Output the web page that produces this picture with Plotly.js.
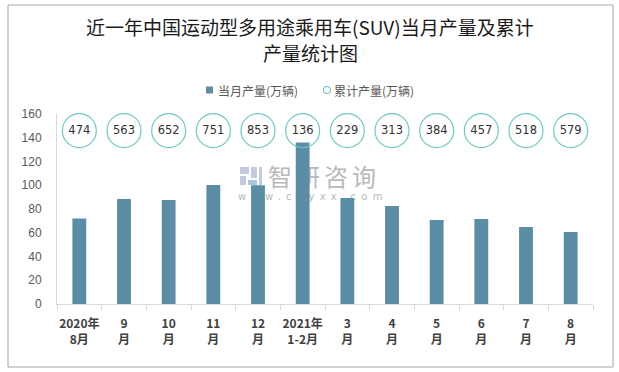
<!DOCTYPE html>
<html>
<head>
<meta charset="utf-8">
<script src="https://cdn.plot.ly/plotly-3.0.1.min.js"></script>
<style>html,body{margin:0;padding:0;background:#fff;}#chart{width:619px;height:372px;}</style>
</head>
<body>
<div id="chart"></div>
<script>
// Data
const categories = ["2020年<br>8月","9<br>月","10<br>月","11<br>月","12<br>月","2021年<br>1-2月","3<br>月","4<br>月","5<br>月","6<br>月","7<br>月","8<br>月"];
const monthlyOutput = [72, 88.5, 87.5, 100.3, 100, 136, 89.3, 82.5, 70.8, 71.6, 64.8, 60.6];
const cumulativeOutput = [474, 563, 652, 751, 853, 136, 229, 313, 384, 457, 518, 579];
const seriesNames = ["当月产量(万辆)", "累计产量(万辆)"];
const titleLines = ["近一年中国运动型多用途乘用车(SUV)当月产量及累计", "产量统计图"];

// geometry helpers (plot area in px)
const L = 57, R = 593, T = 114, B = 304;
const px2x = p => (p - L) / (R - L);
const px2y = p => (B - p) / (B - T);
const labelRow = 146; // row of the circled cumulative labels on the value axis

const font = '"Noto Sans CJK SC","Noto Sans",sans-serif';
const barColor = '#5B8DA6';
const ringColor = '#6ECAC2';

const wmSvg = '<svg xmlns="http://www.w3.org/2000/svg" width="150" height="40">' +
  '<rect x="5" y="4" width="9" height="7" fill="#c3cbdf"/><rect x="5" y="13" width="6" height="9" fill="#c3cbdf"/>' +
  '<rect x="16" y="4" width="6" height="11" fill="#c3cbdf"/><rect x="13" y="17" width="9" height="5" fill="#a7c6e4"/>' +
  '<rect x="24" y="4" width="3" height="18" fill="#c3cbdf"/>' +
  '<text x="33" y="23" font-family="Noto Sans CJK SC" font-size="24" fill="#b9b9b9" letter-spacing="4">智研咨询</text>' +
  '<text x="3" y="37" font-family="DejaVu Sans" font-size="10" fill="#b9b9b9" letter-spacing="5.3">www.chyxx.com</text>' +
  '</svg>';
const wmSrc = 'data:image/svg+xml;charset=utf-8,' + encodeURIComponent(wmSvg);

const traces = [
  {
    type: 'bar', x: categories, y: monthlyOutput, name: seriesNames[0],
    marker: {color: barColor}, width: 0.31, hoverinfo: 'x+y'
  },
  {
    type: 'scatter', mode: 'markers+text', x: categories,
    y: cumulativeOutput.map(() => labelRow),
    text: cumulativeOutput.map(String), textposition: 'middle center',
    textfont: {family: '"DejaVu Sans",sans-serif', size: 11.5, color: '#333333'},
    name: seriesNames[1],
    marker: {symbol: 'circle-open', size: 34, color: ringColor, line: {width: 1.2, color: ringColor}},
    cliponaxis: false
  }
];

const layout = {
  width: 619, height: 372,
  margin: {l: L, r: 619 - R, t: T, b: 372 - B},
  paper_bgcolor: '#ffffff', plot_bgcolor: 'rgba(0,0,0,0)',
  font: {family: font, size: 12, color: '#595959'},
  showlegend: false,
  xaxis: {
    type: 'category', range: [-0.5, 11.5], showgrid: false, showline: true, linecolor: '#d9d9d9', linewidth: 1,
    ticks: 'outside', tickson: 'boundaries', ticklen: 5, tickcolor: '#d9d9d9', tickangle: 0,
    ticklabelstandoff: 9,
    tickfont: {family: font, size: 12, color: '#404040', weight: 'bold'},
    fixedrange: true
  },
  yaxis: {
    range: [0, 160], dtick: 20, showgrid: false, showline: true, linecolor: '#d9d9d9',
    ticks: '', ticklabelstandoff: 12, tickfont: {family: '"Liberation Sans",sans-serif', size: 12, color: '#595959'}, zeroline: false,
    fixedrange: true
  },
  bargap: 0.69,
  annotations: [
    {text: titleLines[0], xref: 'paper', yref: 'paper', x: px2x(310), y: px2y(27), xanchor: 'center', yanchor: 'middle', showarrow: false,
     font: {family: font, size: 19, color: '#1a1a1a'}},
    {text: titleLines[1], xref: 'paper', yref: 'paper', x: px2x(310), y: px2y(52), xanchor: 'center', yanchor: 'middle', showarrow: false,
     font: {family: font, size: 19, color: '#1a1a1a'}},
    {text: seriesNames[0], xref: 'paper', yref: 'paper', x: px2x(216), y: px2y(90), xanchor: 'left', yanchor: 'middle', showarrow: false,
     font: {family: font, size: 12, color: '#595959'}},
    {text: seriesNames[1], xref: 'paper', yref: 'paper', x: px2x(332), y: px2y(90), xanchor: 'left', yanchor: 'middle', showarrow: false,
     font: {family: font, size: 12, color: '#595959'}}
  ],
  images: [{
    source: wmSrc, xref: 'paper', yref: 'paper',
    x: px2x(235), y: px2y(163), sizex: 150 / (R - L), sizey: 40 / (B - T),
    xanchor: 'left', yanchor: 'top', layer: 'below', sizing: 'stretch'
  }],
  shapes: [
    {type: 'rect', xref: 'paper', yref: 'paper', x0: px2x(8), x1: px2x(613), y0: px2y(367), y1: px2y(5),
     line: {color: '#a6a6a6', width: 1}, fillcolor: 'rgba(0,0,0,0)', layer: 'below'},
    {type: 'rect', xref: 'paper', yref: 'paper', x0: px2x(206), x1: px2x(213), y0: px2y(93.5), y1: px2y(86.5),
     line: {width: 0}, fillcolor: barColor},
    {type: 'circle', xref: 'paper', yref: 'paper', x0: px2x(323.5), x1: px2x(330.5), y0: px2y(93.5), y1: px2y(86.5),
     line: {color: ringColor, width: 1.2}, fillcolor: 'rgba(0,0,0,0)'}
  ]
};

Plotly.newPlot('chart', traces, layout, {displayModeBar: false, staticPlot: true});
</script>
</body>
</html>
